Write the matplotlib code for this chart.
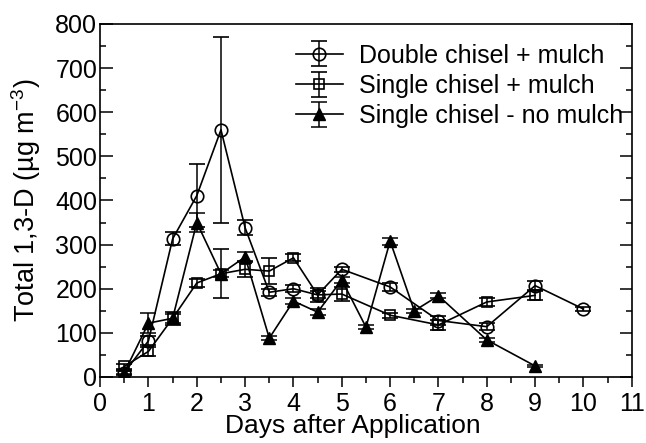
import matplotlib
matplotlib.use('Agg')
import matplotlib.pyplot as plt
import numpy as np
from matplotlib.ticker import MultipleLocator

plt.rcParams['font.family'] = ['Liberation Sans', 'DejaVu Sans']
plt.rcParams['mathtext.fontset'] = 'custom'
plt.rcParams['mathtext.rm'] = 'Liberation Sans'
plt.rcParams['mathtext.it'] = 'Liberation Sans'

# Double chisel + mulch
dc_days = [0.5, 1, 1.5, 2, 2.5, 3, 3.5, 4, 4.5, 5, 6, 7, 8, 9, 10]
dc_conc = [10, 82, 313, 411, 560, 338, 192, 200, 186, 244, 204, 128, 114, 207, 154]
dc_err = [5, 10, 15, 72, 210, 17, 8, 8, 8, 6, 10, 10, 8, 10, 4]

# Single chisel + mulch
sc_days = [0.5, 1, 1.5, 2, 2.5, 3, 3.5, 4, 4.5, 5, 6, 7, 8, 9]
sc_conc = [24, 58, 133, 213, 234, 244, 240, 270, 186, 188, 140, 118, 170, 185]
sc_err = [5, 10, 15, 8, 55, 18, 30, 8, 15, 15, 6, 12, 10, 10]

# Single chisel - no mulch
nm_days = [0.5, 1, 1.5, 2, 2.5, 3, 3.5, 4, 4.5, 5, 5.5, 6, 6.5, 7, 8, 9]
nm_conc = [10, 122, 133, 350, 234, 272, 88, 172, 147, 220, 113, 308, 150, 184, 84, 25]
nm_err = [4, 22, 10, 22, 8, 12, 4, 6, 6, 6, 4, 8, 4, 6, 4, 3]

fig, ax = plt.subplots(figsize=(6.46, 4.43), dpi=100)
fig.subplots_adjust(left=0.155, right=0.978, top=0.946, bottom=0.149)

common = dict(color='black', ecolor='black', lw=1.2, elinewidth=1.1, capsize=5.5, capthick=1.1)
ax.errorbar(dc_days, dc_conc, yerr=dc_err, fmt='-o', ms=9, mfc='none', mec='black', mew=1.2,
            label='Double chisel + mulch', **common)
ax.errorbar(sc_days, sc_conc, yerr=sc_err, fmt='-s', ms=6.5, mfc='none', mec='black', mew=1.2,
            label='Single chisel + mulch', **common)
ax.errorbar(nm_days, nm_conc, yerr=nm_err, fmt='-^', ms=8, mfc='black', mec='black',
            label='Single chisel - no mulch', **common)

ax.set_xlim(0, 11)
ax.set_ylim(0, 800)
ax.xaxis.set_major_locator(MultipleLocator(1))
ax.xaxis.set_minor_locator(MultipleLocator(0.5))
ax.yaxis.set_major_locator(MultipleLocator(100))
ax.yaxis.set_minor_locator(MultipleLocator(50))

ax.tick_params(axis='x', which='major', direction='out', length=7, width=1.1, labelsize=18, pad=4)
ax.tick_params(axis='x', which='minor', direction='out', length=4, width=1.1)
ax.tick_params(axis='y', which='major', direction='in', length=9, width=1.1, labelsize=18, pad=2,
               right=True)
ax.tick_params(axis='y', which='minor', direction='in', length=4.5, width=1.1, right=True)
for s in ax.spines.values():
    s.set_linewidth(1.2)

ylabs = ax.get_yticklabels()
ylabs[0].set_va('bottom')

ax.set_xlabel('Days after Application', fontsize=19, labelpad=0)
ax.xaxis.set_label_coords(0.475, -0.105)
ax.set_ylabel('Total 1,3-D (µg m$^{-3}$)', fontsize=19.5, labelpad=9)

leg = ax.legend(loc='upper right', bbox_to_anchor=(1.013, 0.987), frameon=False, fontsize=18,
                handlelength=1.9, handletextpad=0.65, labelspacing=0.25, borderaxespad=0.2)

fig.savefig('out.png', dpi=100)
